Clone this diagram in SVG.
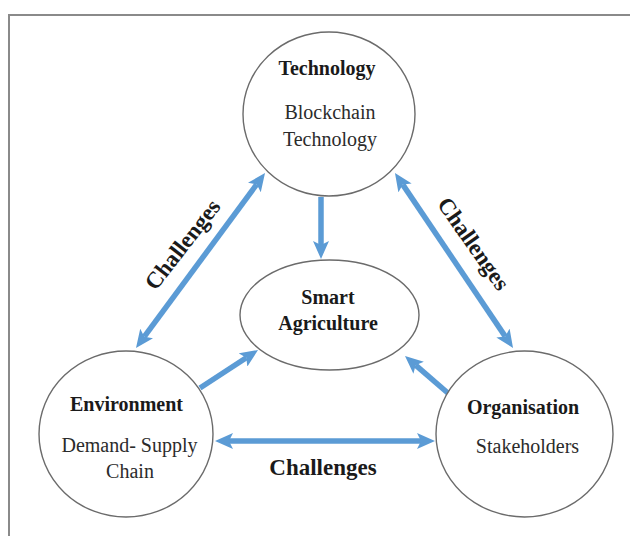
<svg xmlns="http://www.w3.org/2000/svg" width="630" height="536" viewBox="0 0 630 536">
  <style>
    .node { fill: #ffffff; stroke: #6b6b6b; stroke-width: 1.4; }
    .title { font-family: "Liberation Serif", "Times New Roman", serif; font-size: 20px; font-weight: bold; fill: #1a1a1a; text-anchor: middle; }
    .sub { font-family: "Liberation Serif", "Times New Roman", serif; font-size: 20px; fill: #2b2b2b; text-anchor: middle; }
    .label { font-family: "Liberation Serif", "Times New Roman", serif; font-size: 23px; font-weight: bold; fill: #1a1a1a; text-anchor: middle; }
    .link { stroke: #5b9bd5; stroke-width: 5.5; fill: none; }
    .frame { stroke: #8a8a8a; stroke-width: 2; fill: none; }
  </style>
  <defs>
    <marker id="head" markerUnits="userSpaceOnUse" markerWidth="18" markerHeight="16" refX="4" refY="8" orient="auto-start-reverse">
      <path d="M0,0 L18,8 L0,16 L4,8 Z" fill="#5b9bd5"/>
    </marker>
  </defs>

  <rect width="630" height="536" fill="#ffffff"/>
  <!-- outer frame (top and left edges) -->
  <path class="frame" d="M9,536 L9,15 L630,15"/>

  <!-- connectors -->
  <g id="connectors">
    <line class="link" x1="321" y1="197" x2="321" y2="245" marker-end="url(#head)"/>
    <line class="link" x1="256.7" y1="184.3" x2="144.3" y2="336.7" marker-start="url(#head)" marker-end="url(#head)"/>
    <line class="link" x1="402.8" y1="184.6" x2="505.2" y2="336.4" marker-start="url(#head)" marker-end="url(#head)"/>
    <line class="link" x1="200" y1="388" x2="246.3" y2="357.7" marker-end="url(#head)"/>
    <line class="link" x1="449" y1="394" x2="415.6" y2="365.2" marker-end="url(#head)"/>
    <line class="link" x1="229" y1="441" x2="421" y2="441" marker-start="url(#head)" marker-end="url(#head)"/>
    <text class="label" transform="translate(183,245) rotate(-52)" x="0" y="7">Challenges</text>
    <text class="label" transform="translate(473,244) rotate(55)" x="0" y="7">Challenges</text>
    <text class="label" x="323" y="475">Challenges</text>
  </g>

  <g id="technology">
    <ellipse class="node" cx="329" cy="114" rx="86" ry="82"/>
    <text class="title" x="327" y="75">Technology</text>
    <text class="sub" x="330" y="119">Blockchain</text>
    <text class="sub" x="330" y="146">Technology</text>
  </g>

  <g id="smart-agriculture">
    <ellipse class="node" cx="329.5" cy="315" rx="89.5" ry="55"/>
    <text class="title" x="328" y="304">Smart</text>
    <text class="title" x="328" y="330">Agriculture</text>
  </g>

  <g id="environment">
    <ellipse class="node" cx="126" cy="434" rx="87" ry="83"/>
    <text class="title" x="126.5" y="411">Environment</text>
    <text class="sub" x="129.5" y="452">Demand- Supply</text>
    <text class="sub" x="130" y="478">Chain</text>
  </g>

  <g id="organisation">
    <ellipse class="node" cx="524.5" cy="434" rx="88.5" ry="83"/>
    <text class="title" x="523" y="414">Organisation</text>
    <text class="sub" x="527.5" y="453">Stakeholders</text>
  </g>
</svg>
